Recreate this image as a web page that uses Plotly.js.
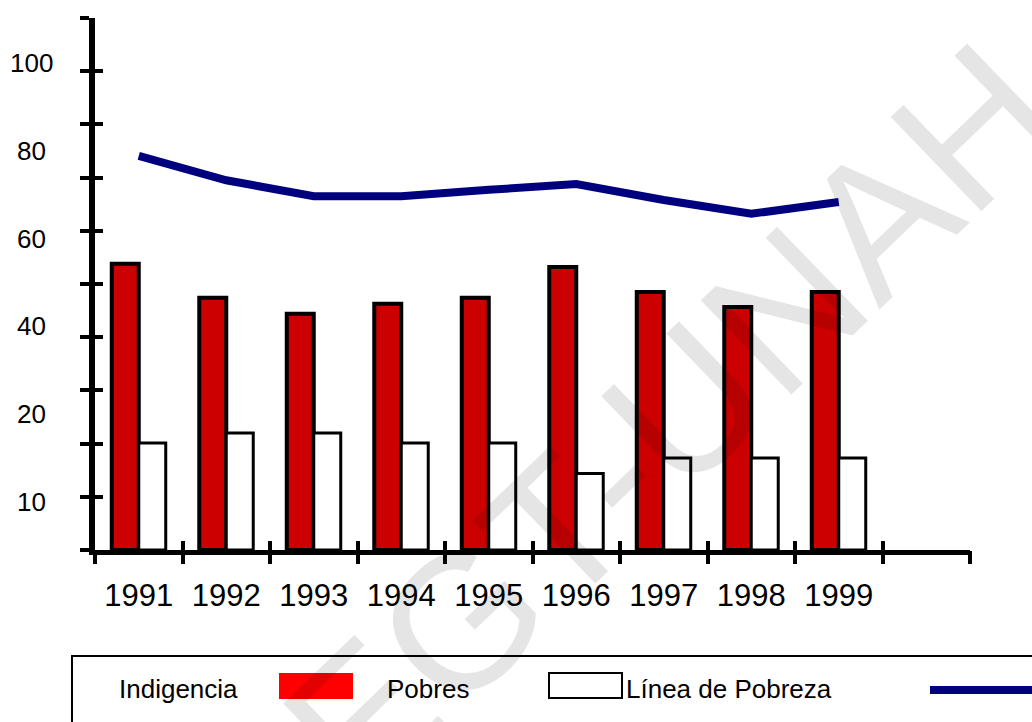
<!DOCTYPE html>
<html>
<head>
<meta charset="utf-8">
<script src="https://cdn.plot.ly/plotly-3.0.1.min.js"></script>
<style>
html,body{margin:0;padding:0;background:#ffffff;}
#chart{width:1032px;height:722px;}
</style>
</head>
<body>
<div id="chart"></div>
<script>
// ---- data ----
const years = [1991, 1992, 1993, 1994, 1995, 1996, 1997, 1998, 1999];
const yearLabels = ['1991', '1992', '1993', '1994', '1995', '1996', '1997', '1998', '1999'];
const seriesNames = ['Indigencia', 'Pobres', 'Línea de Pobreza'];
const indigencia = [53.8, 47.4, 44.4, 46.3, 47.4, 53.2, 48.5, 45.7, 48.5];
const pobres = [20.1, 22.0, 22.0, 20.1, 20.1, 14.4, 17.3, 17.3, 17.3];
const lineaPobreza = [74.1, 69.5, 66.5, 66.5, 67.7, 68.8, 65.8, 63.2, 65.4];
const yTickVals = [0, 10, 20, 30, 40, 50, 60, 70, 80, 90, 100];
const yLabelText = ['100', '80', '60', '40', '20', '10'];
const yLabelPos = [91.6, 75.0, 58.5, 42.1, 25.6, 9.0];
const xBoundaries = [1990.5, 1991.5, 1992.5, 1993.5, 1994.5, 1995.5, 1996.5, 1997.5, 1998.5, 1999.5, 2000.5];
const watermark = 'EGT-UNAH';

// ---- layout helpers (pixel -> paper) ----
const L = 95, R = 970, T = 18, B = 550;
const W = 1032, H = 722;
const px = v => (v - L) / (R - L);
const py = v => (B - v) / (B - T);
const FONT = 'Liberation Sans, Arial, sans-serif';

const traces = [
  {
    type: 'bar', name: seriesNames[0], x: years, y: indigencia,
    marker: {color: '#cc0000', line: {color: '#000000', width: 4}},
    hoverinfo: 'skip', showlegend: false
  },
  {
    type: 'bar', name: seriesNames[1], x: years, y: pobres,
    marker: {color: '#ffffff', line: {color: '#000000', width: 3}},
    hoverinfo: 'skip', showlegend: false
  },
  {
    type: 'scatter', mode: 'lines', name: seriesNames[2], x: years, y: lineaPobreza,
    line: {color: '#00007f', width: 8},
    hoverinfo: 'skip', showlegend: false
  },
  {type: 'scatter', x: [], y: [], xaxis: 'x2', yaxis: 'y2', showlegend: false, hoverinfo: 'skip'},
  {type: 'scatter', x: [], y: [], xaxis: 'x3', yaxis: 'y', showlegend: false, hoverinfo: 'skip'}
];

const annotations = [];
yLabelText.forEach((t, i) => {
  annotations.push({
    text: t, xref: 'paper', yref: 'y', x: px(31), y: yLabelPos[i],
    xanchor: 'center', yanchor: 'middle', showarrow: false,
    font: {family: FONT, size: 26, color: '#000'}
  });
});
const legendTextX = [117, 385, 624];
seriesNames.forEach((t, i) => {
  annotations.push({
    text: t, xref: 'paper', yref: 'paper', x: px(legendTextX[i]), y: py(689),
    xanchor: 'left', yanchor: 'middle', showarrow: false,
    font: {family: FONT, size: 26, color: '#000'}
  });
});
annotations.push({
  text: watermark, xref: 'paper', yref: 'paper', x: px(670), y: py(420),
  xanchor: 'center', yanchor: 'middle', showarrow: false, textangle: -44,
  font: {family: FONT, size: 190, color: 'rgba(0,0,0,0.1)'}
});

const shapes = [
  {type: 'rect', xref: 'paper', yref: 'paper', x0: px(72), x1: px(1045), y0: py(656), y1: py(735),
   line: {color: '#000', width: 2}, fillcolor: 'rgba(0,0,0,0)'},
  {type: 'rect', xref: 'paper', yref: 'paper', x0: px(279), x1: px(353), y0: py(673), y1: py(699),
   line: {width: 0}, fillcolor: '#ff0000'},
  {type: 'rect', xref: 'paper', yref: 'paper', x0: px(549), x1: px(622), y0: py(673), y1: py(698),
   line: {color: '#000', width: 2}, fillcolor: '#ffffff'},
  {type: 'line', xref: 'paper', yref: 'paper', x0: px(930), x1: px(1045), y0: py(690), y1: py(690),
   line: {color: '#00007f', width: 8}}
];

const xr = [1990.5, 2000.5];
const layout = {
  width: W, height: H,
  margin: {l: L, r: W - R, t: T, b: H - B, pad: 0},
  paper_bgcolor: '#ffffff', plot_bgcolor: '#ffffff',
  barmode: 'group', bargap: 0.383, bargroupgap: 0,
  showlegend: false,
  font: {family: FONT, color: '#000'},
  xaxis: {
    range: xr, tickmode: 'array', tickvals: years, ticktext: yearLabels,
    ticks: '', showline: true, linecolor: '#000', linewidth: 5,
    showgrid: false, zeroline: false, fixedrange: true,
    ticklabelstandoff: 14,
    tickfont: {family: FONT, size: 31, color: '#000'}
  },
  xaxis2: {
    overlaying: 'x', anchor: 'y', range: xr, tickmode: 'array', tickvals: xBoundaries,
    ticks: 'outside', ticklen: 13, tickwidth: 4, tickcolor: '#000',
    showticklabels: false, showline: false, showgrid: false, zeroline: false
  },
  xaxis3: {
    overlaying: 'x', anchor: 'y', range: xr, tickmode: 'array', tickvals: xBoundaries,
    ticks: 'inside', ticklen: 9, tickwidth: 4, tickcolor: '#000',
    showticklabels: false, showline: false, showgrid: false, zeroline: false
  },
  yaxis: {
    range: [0, 100], tickmode: 'array', tickvals: yTickVals,
    ticks: 'outside', ticklen: 9, tickwidth: 4, tickcolor: '#000',
    showticklabels: false, showline: true, linecolor: '#000', linewidth: 6,
    showgrid: false, zeroline: false, fixedrange: true
  },
  yaxis2: {
    overlaying: 'y', anchor: 'x', range: [0, 100], tickmode: 'array', tickvals: yTickVals,
    ticks: 'inside', ticklen: 8, tickwidth: 4, tickcolor: '#000',
    showticklabels: false, showline: false, showgrid: false, zeroline: false
  },
  annotations: annotations,
  shapes: shapes
};

Plotly.newPlot('chart', traces, layout, {displayModeBar: false, staticPlot: true});
</script>
</body>
</html>
